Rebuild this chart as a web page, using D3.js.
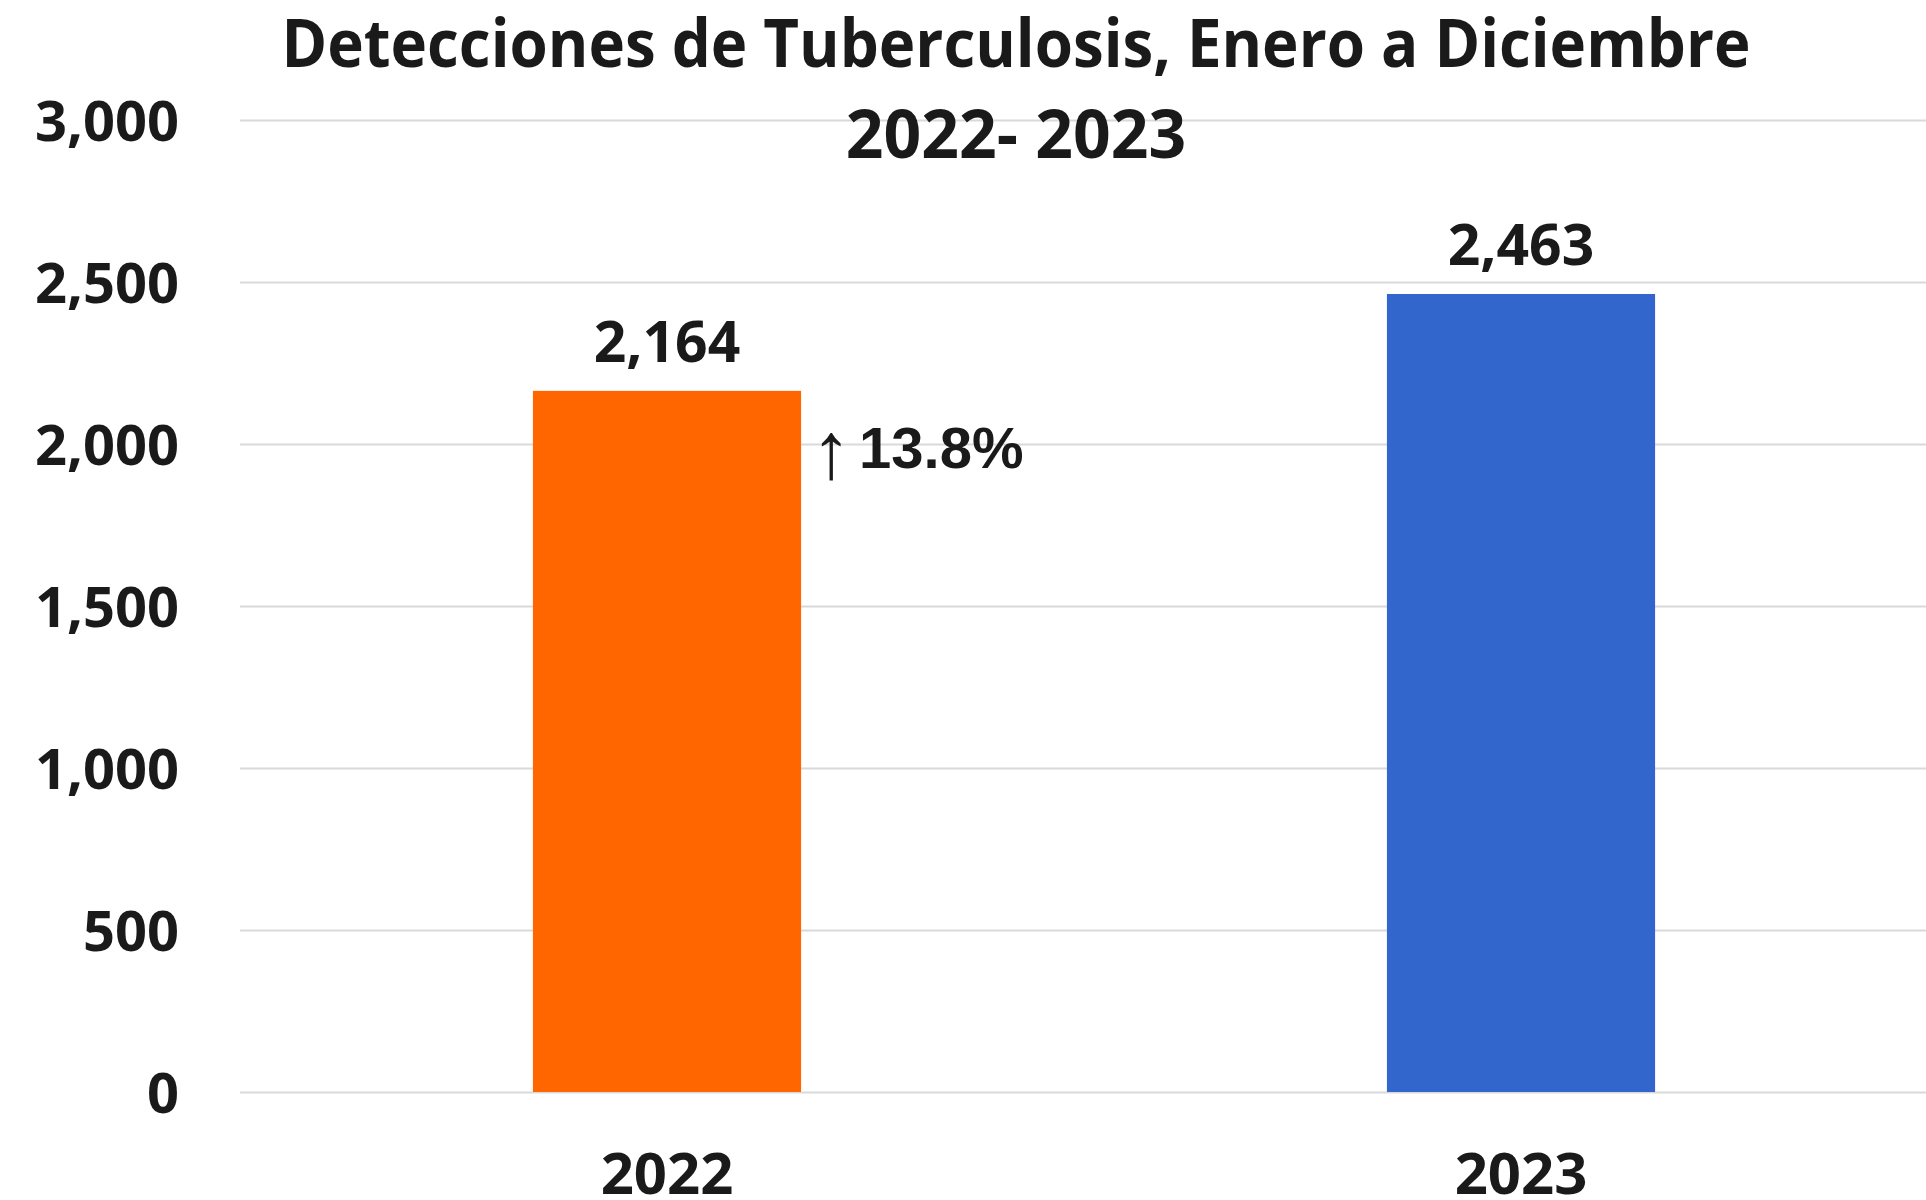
<!DOCTYPE html>
<html lang="es">
  <head>
    <meta charset="UTF-8" />
    <title>Detecciones de Tuberculosis</title>
    <style>
      body {
        margin: 0;
        background: #fff;
      }
      svg text {
        font-family: "Open Sans", "Noto Sans", sans-serif;
        font-weight: 700;
        fill: #1a1a1a;
      }
      .grid line {
        stroke: #d9d9d9;
        stroke-width: 2;
      }
    </style>
    <script src="https://cdn.jsdelivr.net/npm/d3@7"></script>
  </head>
  <body>
    <div class="chart-box"></div>
    <script>
      const years = ["2022", "2023"];
      const detections = [2164, 2463];
      const barColors = ["#ff6600", "#3366cc"];
      const yTicks = [0, 500, 1000, 1500, 2000, 2500, 3000];
      const titleLines = ["Detecciones de Tuberculosis, Enero a Diciembre", "2022- 2023"];

      function init() {
        const W = 1926,
          H = 1200;
        const margin = { top: 120, left: 240, bottom: 108 };

        const svg = d3
          .select(".chart-box")
          .append("svg")
          .attr("width", W)
          .attr("height", H);

        // escalas (el area del grafico sigue mas alla del borde derecho)
        const y = d3
          .scaleLinear()
          .domain([0, 3000])
          .range([H - margin.bottom, margin.top]);
        const x = d3
          .scaleBand()
          .domain(years)
          .range([margin.left, 1948])
          .paddingInner(0.686)
          .paddingOuter(0.343);

        // rejilla + etiquetas del eje y
        const yAxis = svg
          .append("g")
          .attr("class", "grid")
          .attr("transform", "translate(" + margin.left + ",0)")
          .call(
            d3
              .axisLeft(y)
              .tickValues(yTicks)
              .tickFormat(d3.format(","))
              .tickSize(-(W - margin.left))
              .tickPadding(61)
          );
        yAxis.select(".domain").remove();
        yAxis.selectAll("text").attr("font-size", 56).attr("dy", "0.36em");

        // eje x
        const xAxis = svg
          .append("g")
          .attr("transform", "translate(0," + y(0) + ")")
          .call(d3.axisBottom(x).tickSize(0).tickPadding(61));
        xAxis.select(".domain").remove();
        xAxis.selectAll("text").attr("font-size", 58);

        const data = years.map((yr, i) => ({ key: yr, val: detections[i], color: barColors[i] }));

        // barras
        svg
          .selectAll(".bar")
          .data(data)
          .enter()
          .append("rect")
          .attr("class", "bar")
          .attr("x", (d) => x(d.key))
          .attr("y", (d) => y(d.val))
          .attr("width", x.bandwidth())
          .attr("height", (d) => y(0) - y(d.val))
          .attr("fill", (d) => d.color);

        // valores
        svg
          .selectAll(".val")
          .data(data)
          .enter()
          .append("text")
          .attr("class", "val")
          .attr("text-anchor", "middle")
          .attr("font-size", 57)
          .attr("x", (d) => x(d.key) + x.bandwidth() / 2)
          .attr("y", (d) => y(d.val) - 29)
          .text((d) => d3.format(",")(d.val));

        // variacion
        const pct = ((detections[1] - detections[0]) / detections[0]) * 100;
        const note = svg
          .append("text")
          .attr("x", x(years[0]) + x.bandwidth() + 10)
          .attr("y", y(detections[0]) + 77);
        note
          .append("tspan")
          .attr("font-size", 80)
          .attr("dy", 10)
          .style("font-family", "'Liberation Sans', 'DejaVu Sans', sans-serif")
          .style("font-weight", 400)
          .text("\u2191");
        note
          .append("tspan")
          .attr("font-size", 58)
          .attr("dy", -10)
          .attr("dx", 8)
          .style("font-family", "'Liberation Sans', Arial, sans-serif")
          .text(pct.toFixed(1) + "%");

        // titulo
        const t1 = svg
          .append("text")
          .attr("text-anchor", "middle")
          .attr("x", 1016)
          .attr("y", 67)
          .attr("font-size", 66)
          .text(titleLines[0]);
        if (t1.node().getComputedTextLength() > 1469) {
          t1.attr("textLength", 1469).attr("lengthAdjust", "spacingAndGlyphs");
        }
        svg
          .append("text")
          .attr("text-anchor", "middle")
          .attr("x", 1016)
          .attr("y", 158)
          .attr("font-size", 66)
          .text(titleLines[1]);
      }

      init();
    </script>
  </body>
</html>
